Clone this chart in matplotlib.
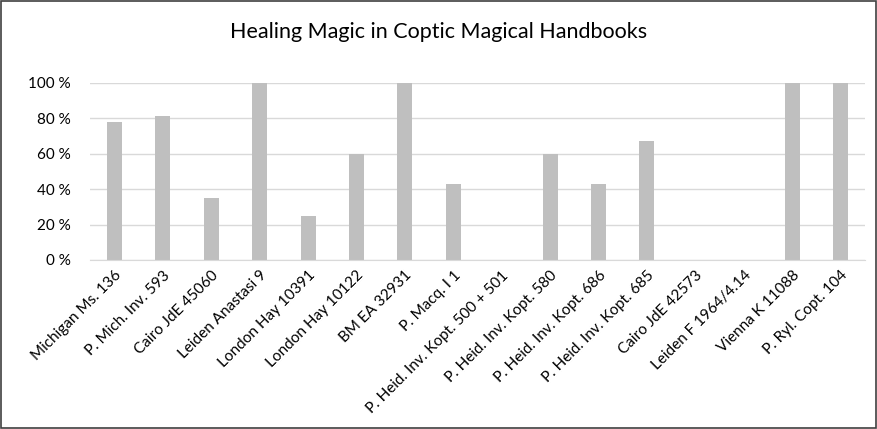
import matplotlib.pyplot as plt
from matplotlib.patches import Rectangle
from matplotlib.ticker import FuncFormatter

plt.rcParams['font.family'] = ['Lato', 'DejaVu Sans']

handbooks = ["Michigan Ms. 136", "P. Mich. Inv. 593", "Cairo JdE 45060", "Leiden Anastasi 9",
             "London Hay 10391", "London Hay 10122", "BM EA 32931", "P. Macq. I 1",
             "P. Heid. Inv. Kopt. 500 + 501", "P. Heid. Inv. Kopt. 580", "P. Heid. Inv. Kopt. 686",
             "P. Heid. Inv. Kopt. 685", "Cairo JdE 42573", "Leiden F 1964/4.14",
             "Vienna K 11088", "P. Ryl. Copt. 104"]
healing_pct = [78, 81, 35, 100, 25, 60, 100, 43, 0, 60, 43, 67, 0, 0, 100, 100]

fig = plt.figure(figsize=(8.77, 4.29), dpi=100)
ax = fig.add_axes([0.103, 0.394, 0.883, 0.413])

x = range(len(handbooks))
ax.bar(x, healing_pct, width=0.31, color='#BFBFBF', zorder=2)
ax.set_xlim(-0.5, len(handbooks) - 0.5)
ax.set_ylim(0, 100)
ax.set_yticks(range(0, 101, 20))
ax.yaxis.set_major_formatter(FuncFormatter(lambda v, p: f"{int(v)} %"))
ax.grid(axis='y', color='#D9D9D9', linewidth=1, zorder=0)
for s in ax.spines.values():
    s.set_visible(False)
ax.spines['bottom'].set_visible(True)
ax.spines['bottom'].set_color('#D9D9D9')
ax.tick_params(axis='both', length=0, labelsize=11, colors='#000000')
ax.tick_params(axis='y', pad=14)
ax.set_xticks(list(x))
ax.set_xticklabels(handbooks, rotation=45, ha='right', rotation_mode='anchor')
ax.tick_params(axis='x', pad=6)

fig.text(0.5, 0.925, "Healing Magic in Coptic Magical Handbooks", ha='center', va='center',
         fontsize=15.5, color='#000000')
fig.patches.append(Rectangle((0.001, 0.002), 0.998, 0.996, transform=fig.transFigure,
                             fill=False, edgecolor='#404040', linewidth=1.2))

fig.savefig("out.png", dpi=100)
